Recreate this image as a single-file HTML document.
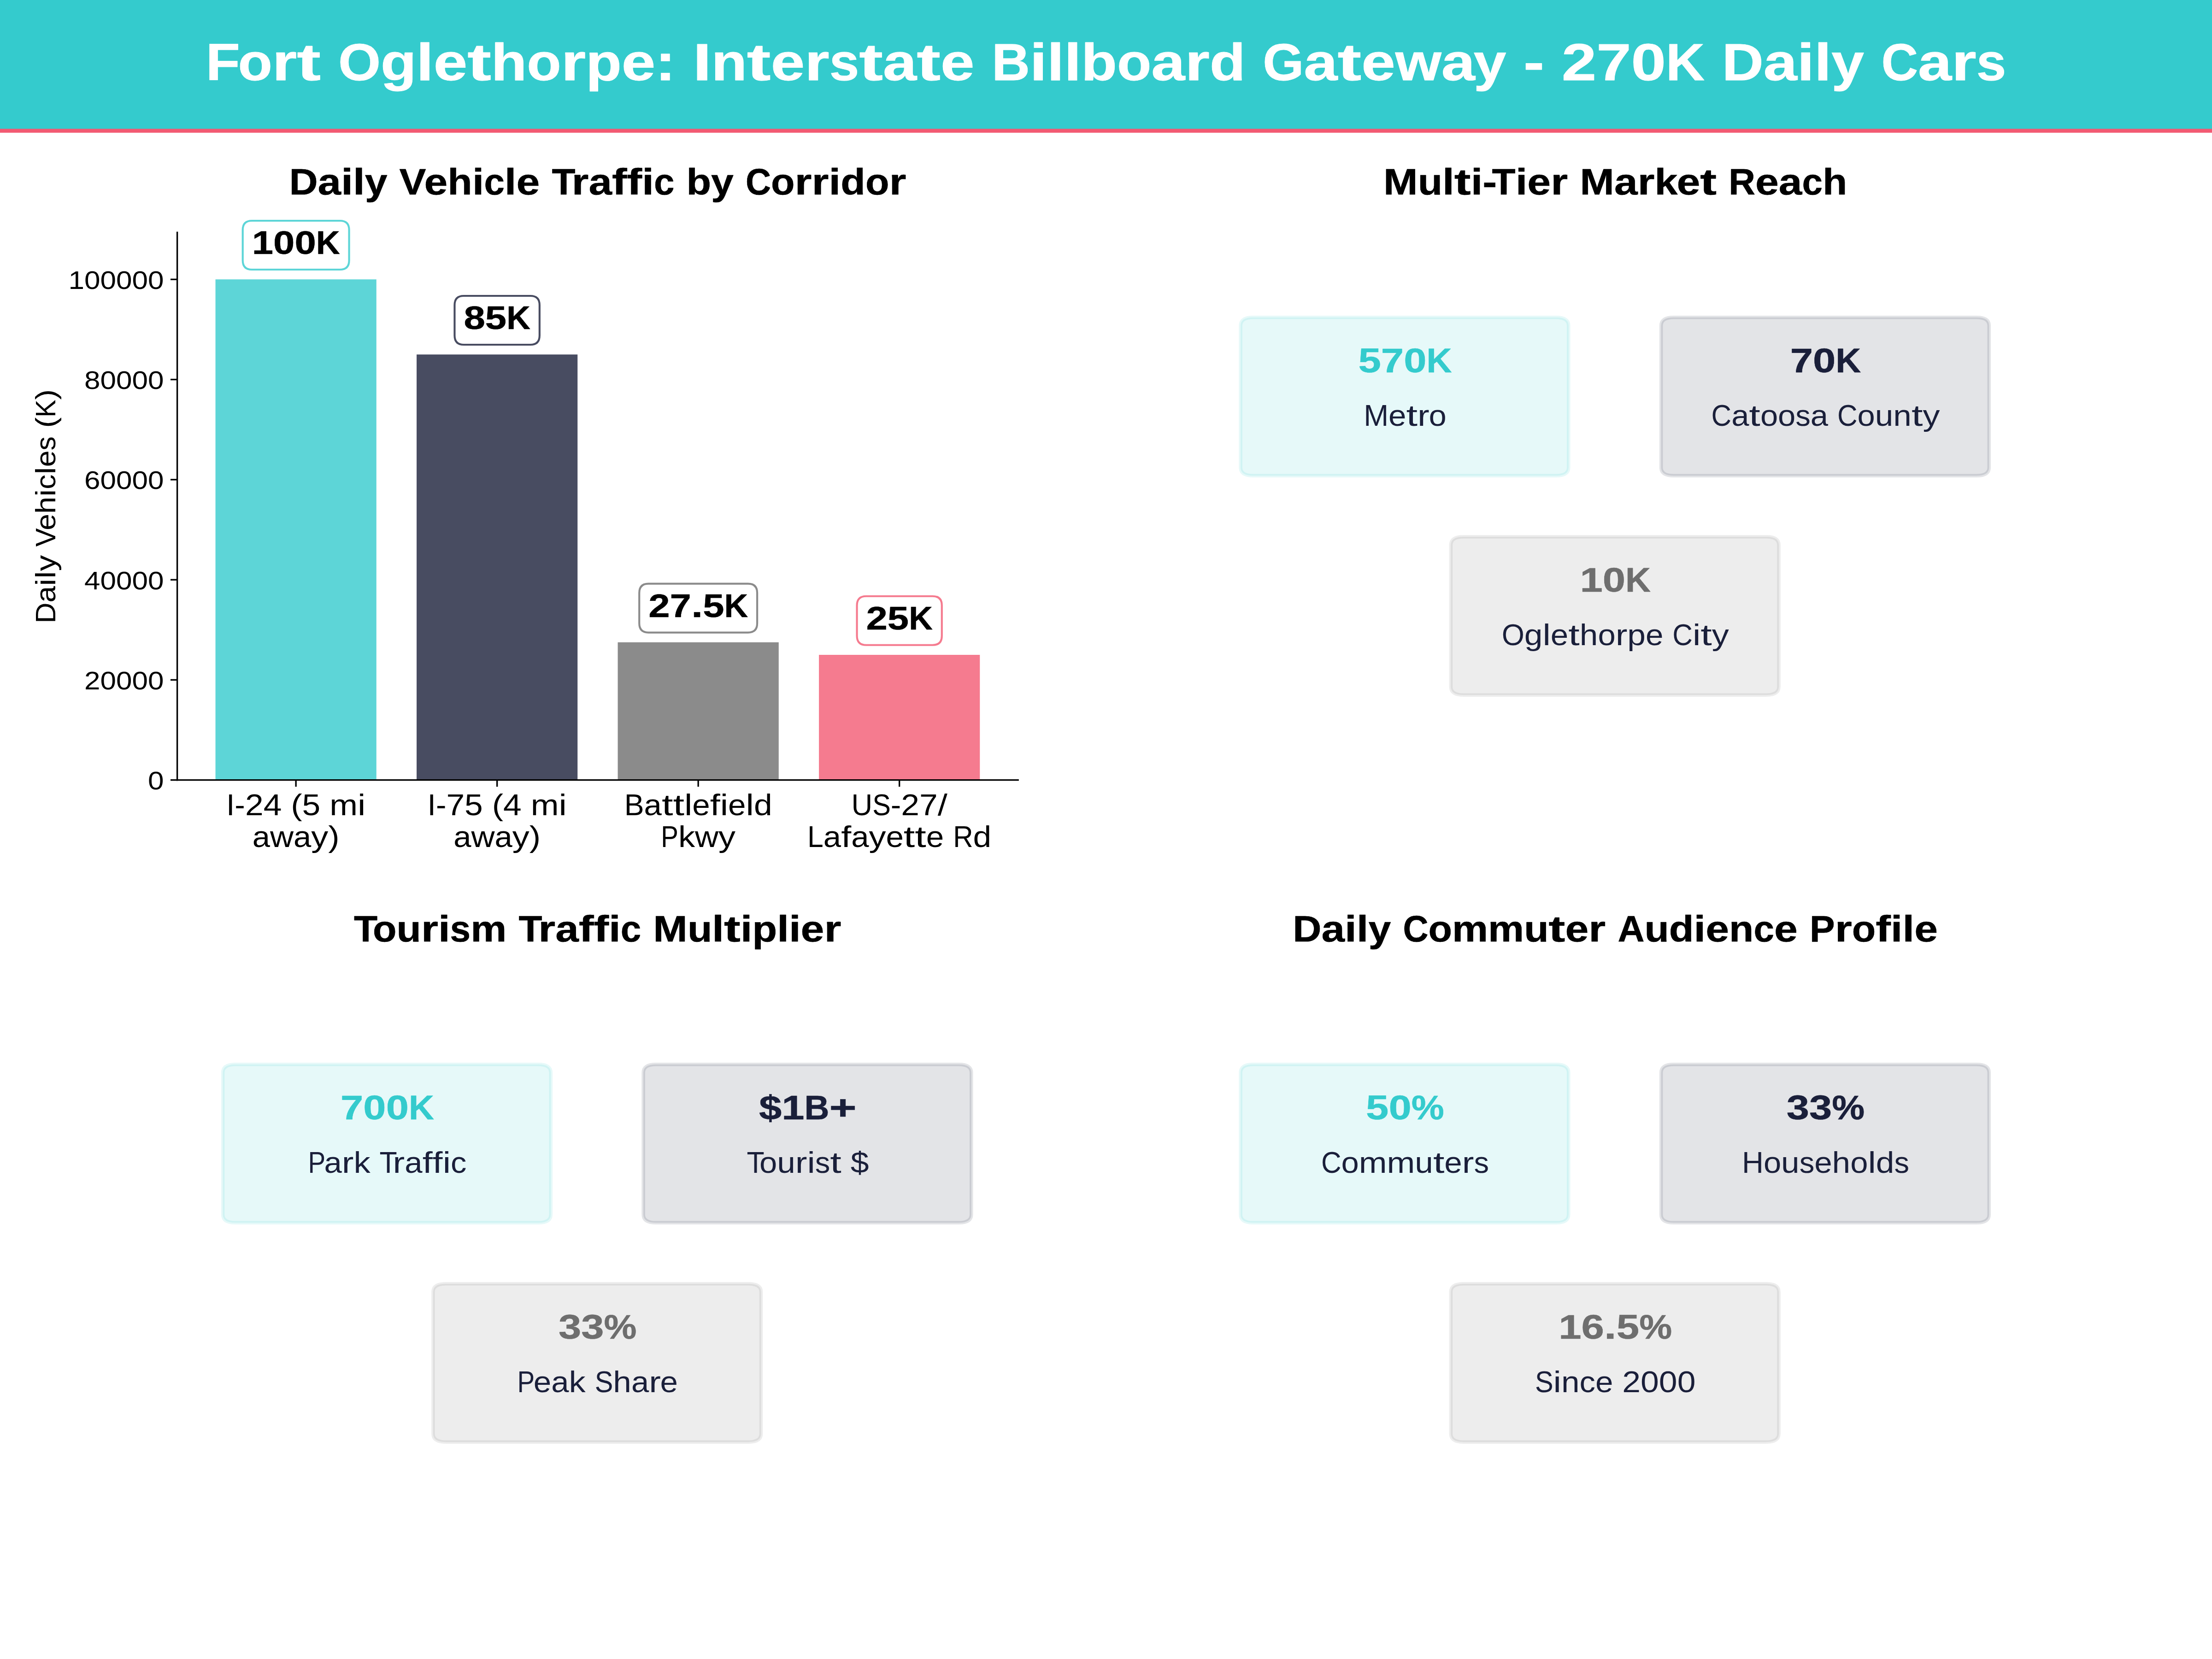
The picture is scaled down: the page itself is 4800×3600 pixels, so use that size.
<!DOCTYPE html>
<html><head><meta charset="utf-8"><style>
html,body{margin:0;padding:0;background:#fff;}
svg{display:block;}
text{font-family:"Liberation Sans",sans-serif;font-variant-ligatures:none;font-kerning:none;}
</style></head><body>
<svg width="4800" height="3600" viewBox="0 0 4800 3600">
<path d="M0 3600L4800 3600L4800 0L0 0Z" fill="#ffffff"/>
<path d="M384.6 1692.6L2209.2 1692.6L2209.2 504.5L384.6 504.5Z" fill="#ffffff"/>
<path d="M467.54 1692.6L816.74 1692.6L816.74 606.3L467.54 606.3Z" fill="#34cbcd" fill-opacity="0.8"/>
<path d="M904.04 1692.6L1253.25 1692.6L1253.25 769.24L904.04 769.24Z" fill="#1a1f3a" fill-opacity="0.8"/>
<path d="M1340.55 1692.6L1689.76 1692.6L1689.76 1393.87L1340.55 1393.87Z" fill="#6e6e6e" fill-opacity="0.8"/>
<path d="M1777.06 1692.6L2126.26 1692.6L2126.26 1421.02L1777.06 1421.02Z" fill="#f25a73" fill-opacity="0.8"/>
<path d="M642.14 1692.6L642.14 1707.18" fill="none" stroke="#000000" stroke-width="3.33"/>
<g font-size="65" fill="#000000" text-anchor="middle"><text x="500.16" y="1768.77" textLength="18.42" lengthAdjust="spacingAndGlyphs">I</text><text x="520.63" y="1768.77" textLength="22.53" lengthAdjust="spacingAndGlyphs">-</text><text x="551.77" y="1768.77" textLength="39.73" lengthAdjust="spacingAndGlyphs">2</text><text x="591.49" y="1768.77" textLength="39.73" lengthAdjust="spacingAndGlyphs">4</text><text x="643.39" y="1768.77" textLength="24.36" lengthAdjust="spacingAndGlyphs">(</text><text x="675.43" y="1768.77" textLength="39.73" lengthAdjust="spacingAndGlyphs">5</text><text x="745.56" y="1768.77" textLength="60.83" lengthAdjust="spacingAndGlyphs">m</text><text x="784.65" y="1768.77" textLength="17.35" lengthAdjust="spacingAndGlyphs">i</text></g>
<g font-size="65" fill="#000000" text-anchor="middle"><text x="566.83" y="1838.17" textLength="38.26" lengthAdjust="spacingAndGlyphs">a</text><text x="611.49" y="1838.17" textLength="51.06" lengthAdjust="spacingAndGlyphs">w</text><text x="656.15" y="1838.17" textLength="38.26" lengthAdjust="spacingAndGlyphs">a</text><text x="693.75" y="1838.17" textLength="36.95" lengthAdjust="spacingAndGlyphs">y</text><text x="724.4" y="1838.17" textLength="24.36" lengthAdjust="spacingAndGlyphs">)</text></g>
<path d="M1078.65 1692.6L1078.65 1707.18" fill="none" stroke="#000000" stroke-width="3.33"/>
<g font-size="65" fill="#000000" text-anchor="middle"><text x="936.67" y="1768.77" textLength="18.42" lengthAdjust="spacingAndGlyphs">I</text><text x="957.14" y="1768.77" textLength="22.53" lengthAdjust="spacingAndGlyphs">-</text><text x="988.27" y="1768.77" textLength="39.73" lengthAdjust="spacingAndGlyphs">7</text><text x="1028" y="1768.77" textLength="39.73" lengthAdjust="spacingAndGlyphs">5</text><text x="1079.9" y="1768.77" textLength="24.36" lengthAdjust="spacingAndGlyphs">(</text><text x="1111.94" y="1768.77" textLength="39.73" lengthAdjust="spacingAndGlyphs">4</text><text x="1182.07" y="1768.77" textLength="60.83" lengthAdjust="spacingAndGlyphs">m</text><text x="1221.16" y="1768.77" textLength="17.35" lengthAdjust="spacingAndGlyphs">i</text></g>
<g font-size="65" fill="#000000" text-anchor="middle"><text x="1003.34" y="1838.17" textLength="38.26" lengthAdjust="spacingAndGlyphs">a</text><text x="1048" y="1838.17" textLength="51.06" lengthAdjust="spacingAndGlyphs">w</text><text x="1092.65" y="1838.17" textLength="38.26" lengthAdjust="spacingAndGlyphs">a</text><text x="1130.25" y="1838.17" textLength="36.95" lengthAdjust="spacingAndGlyphs">y</text><text x="1160.91" y="1838.17" textLength="24.36" lengthAdjust="spacingAndGlyphs">)</text></g>
<path d="M1515.15 1692.6L1515.15 1707.18" fill="none" stroke="#000000" stroke-width="3.33"/>
<g font-size="65" fill="#000000" text-anchor="middle"><text x="1376.16" y="1768.77" textLength="42.88" lengthAdjust="spacingAndGlyphs">B</text><text x="1416.75" y="1768.77" textLength="38.3" lengthAdjust="spacingAndGlyphs">a</text><text x="1448.15" y="1768.77" textLength="24.51" lengthAdjust="spacingAndGlyphs">t</text><text x="1472.66" y="1768.77" textLength="24.51" lengthAdjust="spacingAndGlyphs">t</text><text x="1493.59" y="1768.77" textLength="17.37" lengthAdjust="spacingAndGlyphs">l</text><text x="1521.5" y="1768.77" textLength="38.45" lengthAdjust="spacingAndGlyphs">e</text><text x="1551.73" y="1768.77" textLength="22" lengthAdjust="spacingAndGlyphs">f</text><text x="1571.42" y="1768.77" textLength="17.37" lengthAdjust="spacingAndGlyphs">i</text><text x="1599.32" y="1768.77" textLength="38.45" lengthAdjust="spacingAndGlyphs">e</text><text x="1627.23" y="1768.77" textLength="17.37" lengthAdjust="spacingAndGlyphs">l</text><text x="1655.75" y="1768.77" textLength="39.67" lengthAdjust="spacingAndGlyphs">d</text></g>
<g font-size="65" fill="#000000" text-anchor="middle"><text x="1453.05" y="1838.17" textLength="37.66" lengthAdjust="spacingAndGlyphs">P</text><text x="1489.96" y="1838.17" textLength="36.17" lengthAdjust="spacingAndGlyphs">k</text><text x="1533.59" y="1838.17" textLength="51.08" lengthAdjust="spacingAndGlyphs">w</text><text x="1577.61" y="1838.17" textLength="36.96" lengthAdjust="spacingAndGlyphs">y</text></g>
<path d="M1951.66 1692.6L1951.66 1707.18" fill="none" stroke="#000000" stroke-width="3.33"/>
<g font-size="65" fill="#000000" text-anchor="middle"><text x="1870.33" y="1768.77" textLength="45.71" lengthAdjust="spacingAndGlyphs">U</text><text x="1913" y="1768.77" textLength="39.64" lengthAdjust="spacingAndGlyphs">S</text><text x="1944.08" y="1768.77" textLength="22.53" lengthAdjust="spacingAndGlyphs">-</text><text x="1975.22" y="1768.77" textLength="39.73" lengthAdjust="spacingAndGlyphs">2</text><text x="2014.94" y="1768.77" textLength="39.73" lengthAdjust="spacingAndGlyphs">7</text><text x="2045.33" y="1768.77" textLength="21.04" lengthAdjust="spacingAndGlyphs">/</text></g>
<g font-size="65" fill="#000000" text-anchor="middle"><text x="1769.44" y="1838.17" textLength="34.82" lengthAdjust="spacingAndGlyphs">L</text><text x="1806" y="1838.17" textLength="38.3" lengthAdjust="spacingAndGlyphs">a</text><text x="1836.15" y="1838.17" textLength="22" lengthAdjust="spacingAndGlyphs">f</text><text x="1866.3" y="1838.17" textLength="38.3" lengthAdjust="spacingAndGlyphs">a</text><text x="1903.94" y="1838.17" textLength="36.98" lengthAdjust="spacingAndGlyphs">y</text><text x="1941.65" y="1838.17" textLength="38.45" lengthAdjust="spacingAndGlyphs">e</text><text x="1973.13" y="1838.17" textLength="24.5" lengthAdjust="spacingAndGlyphs">t</text><text x="1997.63" y="1838.17" textLength="24.5" lengthAdjust="spacingAndGlyphs">t</text><text x="2029.11" y="1838.17" textLength="38.45" lengthAdjust="spacingAndGlyphs">e</text><text x="2089.91" y="1838.17" textLength="43.42" lengthAdjust="spacingAndGlyphs">R</text><text x="2131.45" y="1838.17" textLength="39.67" lengthAdjust="spacingAndGlyphs">d</text></g>
<path d="M384.6 1692.6L370.02 1692.6" fill="none" stroke="#000000" stroke-width="3.33"/>
<g font-size="56.33" fill="#000000" text-anchor="middle"><text x="338.18" y="1713.1" textLength="34.5" lengthAdjust="spacingAndGlyphs">0</text></g>
<path d="M384.6 1475.34L370.02 1475.34" fill="none" stroke="#000000" stroke-width="3.33"/>
<g font-size="56.33" fill="#000000" text-anchor="middle"><text x="200.3" y="1495.84" textLength="34.48" lengthAdjust="spacingAndGlyphs">2</text><text x="234.77" y="1495.84" textLength="34.48" lengthAdjust="spacingAndGlyphs">0</text><text x="269.25" y="1495.84" textLength="34.48" lengthAdjust="spacingAndGlyphs">0</text><text x="303.72" y="1495.84" textLength="34.47" lengthAdjust="spacingAndGlyphs">0</text><text x="338.2" y="1495.84" textLength="34.47" lengthAdjust="spacingAndGlyphs">0</text></g>
<path d="M384.6 1258.08L370.02 1258.08" fill="none" stroke="#000000" stroke-width="3.33"/>
<g font-size="56.33" fill="#000000" text-anchor="middle"><text x="200.18" y="1278.58" textLength="34.5" lengthAdjust="spacingAndGlyphs">4</text><text x="234.68" y="1278.58" textLength="34.5" lengthAdjust="spacingAndGlyphs">0</text><text x="269.18" y="1278.58" textLength="34.5" lengthAdjust="spacingAndGlyphs">0</text><text x="303.68" y="1278.58" textLength="34.5" lengthAdjust="spacingAndGlyphs">0</text><text x="338.18" y="1278.58" textLength="34.5" lengthAdjust="spacingAndGlyphs">0</text></g>
<path d="M384.6 1040.82L370.02 1040.82" fill="none" stroke="#000000" stroke-width="3.33"/>
<g font-size="56.33" fill="#000000" text-anchor="middle"><text x="200.3" y="1061.32" textLength="34.48" lengthAdjust="spacingAndGlyphs">6</text><text x="234.77" y="1061.32" textLength="34.48" lengthAdjust="spacingAndGlyphs">0</text><text x="269.25" y="1061.32" textLength="34.48" lengthAdjust="spacingAndGlyphs">0</text><text x="303.72" y="1061.32" textLength="34.47" lengthAdjust="spacingAndGlyphs">0</text><text x="338.2" y="1061.32" textLength="34.47" lengthAdjust="spacingAndGlyphs">0</text></g>
<path d="M384.6 823.56L370.02 823.56" fill="none" stroke="#000000" stroke-width="3.33"/>
<g font-size="56.33" fill="#000000" text-anchor="middle"><text x="200.18" y="844.06" textLength="34.5" lengthAdjust="spacingAndGlyphs">8</text><text x="234.68" y="844.06" textLength="34.5" lengthAdjust="spacingAndGlyphs">0</text><text x="269.18" y="844.06" textLength="34.5" lengthAdjust="spacingAndGlyphs">0</text><text x="303.68" y="844.06" textLength="34.5" lengthAdjust="spacingAndGlyphs">0</text><text x="338.18" y="844.06" textLength="34.5" lengthAdjust="spacingAndGlyphs">0</text></g>
<path d="M384.6 606.3L370.02 606.3" fill="none" stroke="#000000" stroke-width="3.33"/>
<g font-size="56.33" fill="#000000" text-anchor="middle"><text x="165.68" y="626.8" textLength="34.5" lengthAdjust="spacingAndGlyphs">1</text><text x="200.18" y="626.8" textLength="34.5" lengthAdjust="spacingAndGlyphs">0</text><text x="234.68" y="626.8" textLength="34.5" lengthAdjust="spacingAndGlyphs">0</text><text x="269.18" y="626.8" textLength="34.5" lengthAdjust="spacingAndGlyphs">0</text><text x="303.68" y="626.8" textLength="34.5" lengthAdjust="spacingAndGlyphs">0</text><text x="338.18" y="626.8" textLength="34.5" lengthAdjust="spacingAndGlyphs">0</text></g>
<g font-size="60.67" fill="#000000" text-anchor="middle"><text x="119.77" y="1330.01" textLength="44.95" lengthAdjust="spacingAndGlyphs" transform="rotate(-90 119.77 1330.01)">D</text><text x="119.77" y="1289.65" textLength="35.77" lengthAdjust="spacingAndGlyphs" transform="rotate(-90 119.77 1289.65)">a</text><text x="119.77" y="1263.65" textLength="16.22" lengthAdjust="spacingAndGlyphs" transform="rotate(-90 119.77 1263.65)">i</text><text x="119.77" y="1247.43" textLength="16.22" lengthAdjust="spacingAndGlyphs" transform="rotate(-90 119.77 1247.43)">l</text><text x="119.77" y="1222.05" textLength="34.55" lengthAdjust="spacingAndGlyphs" transform="rotate(-90 119.77 1222.05)">y</text><text x="119.77" y="1166.25" textLength="39.94" lengthAdjust="spacingAndGlyphs" transform="rotate(-90 119.77 1166.25)">V</text><text x="119.77" y="1132.83" textLength="35.92" lengthAdjust="spacingAndGlyphs" transform="rotate(-90 119.77 1132.83)">e</text><text x="119.77" y="1096.37" textLength="37" lengthAdjust="spacingAndGlyphs" transform="rotate(-90 119.77 1096.37)">h</text><text x="119.77" y="1069.76" textLength="16.22" lengthAdjust="spacingAndGlyphs" transform="rotate(-90 119.77 1069.76)">i</text><text x="119.77" y="1045.6" textLength="32.1" lengthAdjust="spacingAndGlyphs" transform="rotate(-90 119.77 1045.6)">c</text><text x="119.77" y="1021.44" textLength="16.22" lengthAdjust="spacingAndGlyphs" transform="rotate(-90 119.77 1021.44)">l</text><text x="119.77" y="995.37" textLength="35.92" lengthAdjust="spacingAndGlyphs" transform="rotate(-90 119.77 995.37)">e</text><text x="119.77" y="962.21" textLength="30.41" lengthAdjust="spacingAndGlyphs" transform="rotate(-90 119.77 962.21)">s</text><text x="119.77" y="917.06" textLength="22.78" lengthAdjust="spacingAndGlyphs" transform="rotate(-90 119.77 917.06)">(</text><text x="119.77" y="886.53" textLength="38.28" lengthAdjust="spacingAndGlyphs" transform="rotate(-90 119.77 886.53)">K</text><text x="119.77" y="856" textLength="22.78" lengthAdjust="spacingAndGlyphs" transform="rotate(-90 119.77 856)">)</text></g>
<path d="M384.6 1692.6L384.6 504.5" fill="none" stroke="#000000" stroke-width="3.33" stroke-linejoin="miter" stroke-linecap="square"/>
<path d="M384.6 1692.6L2209.2 1692.6" fill="none" stroke="#000000" stroke-width="3.33" stroke-linejoin="miter" stroke-linecap="square"/>
<path d="M546.7 585.02L737.58 585.02Q757.58 585.02 757.58 565.02L757.58 499.02Q757.58 479.02 737.58 479.02L546.7 479.02Q526.7 479.02 526.7 499.02L526.7 565.02Q526.7 585.02 546.7 585.02Z" fill="#ffffff" fill-opacity="0.8" stroke="#34cbcd" stroke-width="4.17" stroke-opacity="0.8" stroke-linejoin="miter" stroke-linecap="butt"/>
<g font-size="70" font-weight="bold" fill="#000000" stroke="#000000" stroke-width="0.53" stroke-linejoin="round" text-anchor="middle"><text x="569.9" y="551.02" textLength="46.4" lengthAdjust="spacingAndGlyphs">1</text><text x="616.3" y="551.02" textLength="46.4" lengthAdjust="spacingAndGlyphs">0</text><text x="662.7" y="551.02" textLength="46.4" lengthAdjust="spacingAndGlyphs">0</text><text x="711.74" y="551.02" textLength="51.67" lengthAdjust="spacingAndGlyphs">K</text></g>
<path d="M1006.46 747.97L1150.83 747.97Q1170.83 747.97 1170.83 727.97L1170.83 661.97Q1170.83 641.97 1150.83 641.97L1006.46 641.97Q986.46 641.97 986.46 661.97L986.46 727.97Q986.46 747.97 1006.46 747.97Z" fill="#ffffff" fill-opacity="0.8" stroke="#1a1f3a" stroke-width="4.17" stroke-opacity="0.8" stroke-linejoin="miter" stroke-linecap="butt"/>
<g font-size="70" font-weight="bold" fill="#000000" stroke="#000000" stroke-width="0.53" stroke-linejoin="round" text-anchor="middle"><text x="1029.64" y="713.97" textLength="46.37" lengthAdjust="spacingAndGlyphs">8</text><text x="1076.01" y="713.97" textLength="46.37" lengthAdjust="spacingAndGlyphs">5</text><text x="1125.01" y="713.97" textLength="51.64" lengthAdjust="spacingAndGlyphs">K</text></g>
<path d="M1407.22 1372.59L1623.09 1372.59Q1643.09 1372.59 1643.09 1352.59L1643.09 1286.59Q1643.09 1266.59 1623.09 1266.59L1407.22 1266.59Q1387.22 1266.59 1387.22 1286.59L1387.22 1352.59Q1387.22 1372.59 1407.22 1372.59Z" fill="#ffffff" fill-opacity="0.8" stroke="#6e6e6e" stroke-width="4.17" stroke-opacity="0.8" stroke-linejoin="miter" stroke-linecap="butt"/>
<g font-size="70" font-weight="bold" fill="#000000" stroke="#000000" stroke-width="0.53" stroke-linejoin="round" text-anchor="middle"><text x="1430.38" y="1338.59" textLength="46.33" lengthAdjust="spacingAndGlyphs">2</text><text x="1476.71" y="1338.59" textLength="46.33" lengthAdjust="spacingAndGlyphs">7</text><text x="1512.52" y="1338.59" textLength="25.29" lengthAdjust="spacingAndGlyphs">.</text><text x="1548.33" y="1338.59" textLength="46.33" lengthAdjust="spacingAndGlyphs">5</text><text x="1597.29" y="1338.59" textLength="51.6" lengthAdjust="spacingAndGlyphs">K</text></g>
<path d="M1879.54 1399.75L2023.79 1399.75Q2043.79 1399.75 2043.79 1379.75L2043.79 1313.75Q2043.79 1293.75 2023.79 1293.75L1879.54 1293.75Q1859.54 1293.75 1859.54 1313.75L1859.54 1379.75Q1859.54 1399.75 1879.54 1399.75Z" fill="#ffffff" fill-opacity="0.8" stroke="#f25a73" stroke-width="4.17" stroke-opacity="0.8" stroke-linejoin="miter" stroke-linecap="butt"/>
<g font-size="70" font-weight="bold" fill="#000000" stroke="#000000" stroke-width="0.53" stroke-linejoin="round" text-anchor="middle"><text x="1902.7" y="1365.75" textLength="46.33" lengthAdjust="spacingAndGlyphs">2</text><text x="1949.03" y="1365.75" textLength="46.33" lengthAdjust="spacingAndGlyphs">5</text><text x="1997.99" y="1365.75" textLength="51.59" lengthAdjust="spacingAndGlyphs">K</text></g>
<g font-size="78.75" font-weight="bold" fill="#000000" stroke="#000000" stroke-width="0.6" stroke-linejoin="round" text-anchor="middle"><text x="658.52" y="421.97" textLength="62.23" lengthAdjust="spacingAndGlyphs">D</text><text x="714.93" y="421.97" textLength="50.59" lengthAdjust="spacingAndGlyphs">a</text><text x="753.07" y="421.97" textLength="25.7" lengthAdjust="spacingAndGlyphs">i</text><text x="778.77" y="421.97" textLength="25.7" lengthAdjust="spacingAndGlyphs">l</text><text x="816.06" y="421.97" textLength="48.87" lengthAdjust="spacingAndGlyphs">y</text><text x="895.61" y="421.97" textLength="58.02" lengthAdjust="spacingAndGlyphs">V</text><text x="945.92" y="421.97" textLength="50.85" lengthAdjust="spacingAndGlyphs">e</text><text x="998.03" y="421.97" textLength="53.37" lengthAdjust="spacingAndGlyphs">h</text><text x="1037.57" y="421.97" textLength="25.7" lengthAdjust="spacingAndGlyphs">i</text><text x="1072.64" y="421.97" textLength="44.44" lengthAdjust="spacingAndGlyphs">c</text><text x="1107.71" y="421.97" textLength="25.7" lengthAdjust="spacingAndGlyphs">l</text><text x="1145.98" y="421.97" textLength="50.85" lengthAdjust="spacingAndGlyphs">e</text><text x="1223.07" y="421.97" textLength="51.14" lengthAdjust="spacingAndGlyphs">T</text><text x="1258.88" y="421.97" textLength="36.97" lengthAdjust="spacingAndGlyphs">r</text><text x="1302.67" y="421.97" textLength="50.59" lengthAdjust="spacingAndGlyphs">a</text><text x="1344.27" y="421.97" textLength="32.62" lengthAdjust="spacingAndGlyphs">f</text><text x="1376.89" y="421.97" textLength="32.62" lengthAdjust="spacingAndGlyphs">f</text><text x="1406.05" y="421.97" textLength="25.7" lengthAdjust="spacingAndGlyphs">i</text><text x="1441.12" y="421.97" textLength="44.44" lengthAdjust="spacingAndGlyphs">c</text><text x="1516.27" y="421.97" textLength="53.67" lengthAdjust="spacingAndGlyphs">b</text><text x="1567.54" y="421.97" textLength="48.87" lengthAdjust="spacingAndGlyphs">y</text><text x="1645.59" y="421.97" textLength="55.02" lengthAdjust="spacingAndGlyphs">C</text><text x="1698.85" y="421.97" textLength="51.51" lengthAdjust="spacingAndGlyphs">o</text><text x="1743.09" y="421.97" textLength="36.97" lengthAdjust="spacingAndGlyphs">r</text><text x="1780.07" y="421.97" textLength="36.97" lengthAdjust="spacingAndGlyphs">r</text><text x="1811.4" y="421.97" textLength="25.7" lengthAdjust="spacingAndGlyphs">i</text><text x="1851.09" y="421.97" textLength="53.67" lengthAdjust="spacingAndGlyphs">d</text><text x="1903.67" y="421.97" textLength="51.51" lengthAdjust="spacingAndGlyphs">o</text><text x="1947.91" y="421.97" textLength="36.97" lengthAdjust="spacingAndGlyphs">r</text></g>
<path d="M2719.45 1032.26L3376.45 1032.26Q3403.82 1032.26 3403.82 1014.41L3403.82 706.57Q3403.82 688.72 3376.45 688.72L2719.45 688.72Q2692.07 688.72 2692.07 706.57L2692.07 1014.41Q2692.07 1032.26 2719.45 1032.26Z" fill="#34cbcd" fill-opacity="0.12" stroke="#34cbcd" stroke-width="7.5" stroke-opacity="0.12" stroke-linejoin="miter" stroke-linecap="butt"/>
<path d="M3631.95 1032.26L4288.95 1032.26Q4316.32 1032.26 4316.32 1014.41L4316.32 706.57Q4316.32 688.72 4288.95 688.72L3631.95 688.72Q3604.57 688.72 3604.57 706.57L3604.57 1014.41Q3604.57 1032.26 3631.95 1032.26Z" fill="#1a1f3a" fill-opacity="0.12" stroke="#1a1f3a" stroke-width="7.5" stroke-opacity="0.12" stroke-linejoin="miter" stroke-linecap="butt"/>
<path d="M3175.7 1508.18L3832.7 1508.18Q3860.07 1508.18 3860.07 1490.33L3860.07 1182.49Q3860.07 1164.64 3832.7 1164.64L3175.7 1164.64Q3148.32 1164.64 3148.32 1182.49L3148.32 1490.33Q3148.32 1508.18 3175.7 1508.18Z" fill="#6e6e6e" fill-opacity="0.12" stroke="#6e6e6e" stroke-width="7.5" stroke-opacity="0.12" stroke-linejoin="miter" stroke-linecap="butt"/>
<g font-size="74.38" font-weight="bold" fill="#34cbcd" stroke="#34cbcd" stroke-width="0.57" stroke-linejoin="round" text-anchor="middle"><text x="2972.17" y="807.85" textLength="49.32" lengthAdjust="spacingAndGlyphs">5</text><text x="3021.49" y="807.85" textLength="49.32" lengthAdjust="spacingAndGlyphs">7</text><text x="3070.81" y="807.85" textLength="49.32" lengthAdjust="spacingAndGlyphs">0</text><text x="3122.93" y="807.85" textLength="54.92" lengthAdjust="spacingAndGlyphs">K</text></g>
<g font-size="65" fill="#1a1f3a" text-anchor="middle"><text x="2986.17" y="924.33" textLength="53.94" lengthAdjust="spacingAndGlyphs">M</text><text x="3032.37" y="924.33" textLength="38.46" lengthAdjust="spacingAndGlyphs">e</text><text x="3063.86" y="924.33" textLength="24.51" lengthAdjust="spacingAndGlyphs">t</text><text x="3088.97" y="924.33" textLength="25.7" lengthAdjust="spacingAndGlyphs">r</text><text x="3119.57" y="924.33" textLength="38.25" lengthAdjust="spacingAndGlyphs">o</text></g>
<g font-size="74.38" font-weight="bold" fill="#1a1f3a" stroke="#1a1f3a" stroke-width="0.57" stroke-linejoin="round" text-anchor="middle"><text x="3909.35" y="807.85" textLength="49.3" lengthAdjust="spacingAndGlyphs">7</text><text x="3958.65" y="807.85" textLength="49.3" lengthAdjust="spacingAndGlyphs">0</text><text x="4010.75" y="807.85" textLength="54.9" lengthAdjust="spacingAndGlyphs">K</text></g>
<g font-size="65" fill="#1a1f3a" text-anchor="middle"><text x="3735.32" y="924.33" textLength="43.61" lengthAdjust="spacingAndGlyphs">C</text><text x="3776.26" y="924.33" textLength="38.27" lengthAdjust="spacingAndGlyphs">a</text><text x="3807.63" y="924.33" textLength="24.49" lengthAdjust="spacingAndGlyphs">t</text><text x="3838.98" y="924.33" textLength="38.21" lengthAdjust="spacingAndGlyphs">o</text><text x="3877.19" y="924.33" textLength="38.21" lengthAdjust="spacingAndGlyphs">o</text><text x="3912.57" y="924.33" textLength="32.54" lengthAdjust="spacingAndGlyphs">s</text><text x="3947.97" y="924.33" textLength="38.27" lengthAdjust="spacingAndGlyphs">a</text><text x="4008.76" y="924.33" textLength="43.61" lengthAdjust="spacingAndGlyphs">C</text><text x="4049.67" y="924.33" textLength="38.21" lengthAdjust="spacingAndGlyphs">o</text><text x="4088.57" y="924.33" textLength="39.58" lengthAdjust="spacingAndGlyphs">u</text><text x="4128.15" y="924.33" textLength="39.58" lengthAdjust="spacingAndGlyphs">n</text><text x="4160.18" y="924.33" textLength="24.49" lengthAdjust="spacingAndGlyphs">t</text><text x="4190.91" y="924.33" textLength="36.96" lengthAdjust="spacingAndGlyphs">y</text></g>
<g font-size="74.38" font-weight="bold" fill="#6e6e6e" stroke="#6e6e6e" stroke-width="0.57" stroke-linejoin="round" text-anchor="middle"><text x="3453.1" y="1283.77" textLength="49.3" lengthAdjust="spacingAndGlyphs">1</text><text x="3502.4" y="1283.77" textLength="49.3" lengthAdjust="spacingAndGlyphs">0</text><text x="3554.5" y="1283.77" textLength="54.9" lengthAdjust="spacingAndGlyphs">K</text></g>
<g font-size="65" fill="#1a1f3a" text-anchor="middle"><text x="3283.23" y="1400.25" textLength="49.18" lengthAdjust="spacingAndGlyphs">O</text><text x="3327.65" y="1400.25" textLength="39.66" lengthAdjust="spacingAndGlyphs">g</text><text x="3356.17" y="1400.25" textLength="17.36" lengthAdjust="spacingAndGlyphs">l</text><text x="3384.07" y="1400.25" textLength="38.44" lengthAdjust="spacingAndGlyphs">e</text><text x="3415.54" y="1400.25" textLength="24.5" lengthAdjust="spacingAndGlyphs">t</text><text x="3447.59" y="1400.25" textLength="39.6" lengthAdjust="spacingAndGlyphs">h</text><text x="3486.51" y="1400.25" textLength="38.23" lengthAdjust="spacingAndGlyphs">o</text><text x="3518.47" y="1400.25" textLength="25.69" lengthAdjust="spacingAndGlyphs">r</text><text x="3551.15" y="1400.25" textLength="39.66" lengthAdjust="spacingAndGlyphs">p</text><text x="3590.2" y="1400.25" textLength="38.44" lengthAdjust="spacingAndGlyphs">e</text><text x="3651.11" y="1400.25" textLength="43.63" lengthAdjust="spacingAndGlyphs">C</text><text x="3681.6" y="1400.25" textLength="17.36" lengthAdjust="spacingAndGlyphs">i</text><text x="3702.53" y="1400.25" textLength="24.5" lengthAdjust="spacingAndGlyphs">t</text><text x="3733.27" y="1400.25" textLength="36.98" lengthAdjust="spacingAndGlyphs">y</text></g>
<g font-size="78.75" font-weight="bold" fill="#000000" stroke="#000000" stroke-width="0.6" stroke-linejoin="round" text-anchor="middle"><text x="3039.39" y="421.97" textLength="74.63" lengthAdjust="spacingAndGlyphs">M</text><text x="3103.4" y="421.97" textLength="53.39" lengthAdjust="spacingAndGlyphs">u</text><text x="3142.95" y="421.97" textLength="25.71" lengthAdjust="spacingAndGlyphs">l</text><text x="3173.73" y="421.97" textLength="35.85" lengthAdjust="spacingAndGlyphs">t</text><text x="3204.51" y="421.97" textLength="25.71" lengthAdjust="spacingAndGlyphs">i</text><text x="3232.93" y="421.97" textLength="31.13" lengthAdjust="spacingAndGlyphs">-</text><text x="3263.07" y="421.97" textLength="51.16" lengthAdjust="spacingAndGlyphs">T</text><text x="3301.5" y="421.97" textLength="25.71" lengthAdjust="spacingAndGlyphs">i</text><text x="3339.79" y="421.97" textLength="50.87" lengthAdjust="spacingAndGlyphs">e</text><text x="3383.72" y="421.97" textLength="36.99" lengthAdjust="spacingAndGlyphs">r</text><text x="3465.64" y="421.97" textLength="74.63" lengthAdjust="spacingAndGlyphs">M</text><text x="3528.26" y="421.97" textLength="50.61" lengthAdjust="spacingAndGlyphs">a</text><text x="3572.05" y="421.97" textLength="36.99" lengthAdjust="spacingAndGlyphs">r</text><text x="3615.49" y="421.97" textLength="49.88" lengthAdjust="spacingAndGlyphs">k</text><text x="3663.86" y="421.97" textLength="50.87" lengthAdjust="spacingAndGlyphs">e</text><text x="3707.22" y="421.97" textLength="35.85" lengthAdjust="spacingAndGlyphs">t</text><text x="3780.13" y="421.97" textLength="57.75" lengthAdjust="spacingAndGlyphs">R</text><text x="3834.43" y="421.97" textLength="50.87" lengthAdjust="spacingAndGlyphs">e</text><text x="3885.17" y="421.97" textLength="50.61" lengthAdjust="spacingAndGlyphs">a</text><text x="3932.7" y="421.97" textLength="44.46" lengthAdjust="spacingAndGlyphs">c</text><text x="3981.63" y="421.97" textLength="53.39" lengthAdjust="spacingAndGlyphs">h</text></g>
<path d="M510.95 2653.26L1167.95 2653.26Q1195.32 2653.26 1195.32 2635.41L1195.32 2327.57Q1195.32 2309.72 1167.95 2309.72L510.95 2309.72Q483.57 2309.72 483.57 2327.57L483.57 2635.41Q483.57 2653.26 510.95 2653.26Z" fill="#34cbcd" fill-opacity="0.12" stroke="#34cbcd" stroke-width="7.5" stroke-opacity="0.12" stroke-linejoin="miter" stroke-linecap="butt"/>
<path d="M1423.45 2653.26L2080.45 2653.26Q2107.82 2653.26 2107.82 2635.41L2107.82 2327.57Q2107.82 2309.72 2080.45 2309.72L1423.45 2309.72Q1396.07 2309.72 1396.07 2327.57L1396.07 2635.41Q1396.07 2653.26 1423.45 2653.26Z" fill="#1a1f3a" fill-opacity="0.12" stroke="#1a1f3a" stroke-width="7.5" stroke-opacity="0.12" stroke-linejoin="miter" stroke-linecap="butt"/>
<path d="M967.2 3129.18L1624.2 3129.18Q1651.57 3129.18 1651.57 3111.33L1651.57 2803.49Q1651.57 2785.64 1624.2 2785.64L967.2 2785.64Q939.82 2785.64 939.82 2803.49L939.82 3111.33Q939.82 3129.18 967.2 3129.18Z" fill="#6e6e6e" fill-opacity="0.12" stroke="#6e6e6e" stroke-width="7.5" stroke-opacity="0.12" stroke-linejoin="miter" stroke-linecap="butt"/>
<g font-size="74.38" font-weight="bold" fill="#34cbcd" stroke="#34cbcd" stroke-width="0.57" stroke-linejoin="round" text-anchor="middle"><text x="763.72" y="2428.85" textLength="49.29" lengthAdjust="spacingAndGlyphs">7</text><text x="813.01" y="2428.85" textLength="49.29" lengthAdjust="spacingAndGlyphs">0</text><text x="862.29" y="2428.85" textLength="49.29" lengthAdjust="spacingAndGlyphs">0</text><text x="914.38" y="2428.85" textLength="54.89" lengthAdjust="spacingAndGlyphs">K</text></g>
<g font-size="65" fill="#1a1f3a" text-anchor="middle"><text x="687.36" y="2545.33" textLength="37.7" lengthAdjust="spacingAndGlyphs">P</text><text x="722.62" y="2545.33" textLength="38.31" lengthAdjust="spacingAndGlyphs">a</text><text x="754.62" y="2545.33" textLength="25.7" lengthAdjust="spacingAndGlyphs">r</text><text x="785.58" y="2545.33" textLength="36.2" lengthAdjust="spacingAndGlyphs">k</text><text x="842.65" y="2545.33" textLength="38.19" lengthAdjust="spacingAndGlyphs">T</text><text x="865.46" y="2545.33" textLength="25.7" lengthAdjust="spacingAndGlyphs">r</text><text x="897.47" y="2545.33" textLength="38.31" lengthAdjust="spacingAndGlyphs">a</text><text x="927.63" y="2545.33" textLength="22.01" lengthAdjust="spacingAndGlyphs">f</text><text x="949.64" y="2545.33" textLength="22.01" lengthAdjust="spacingAndGlyphs">f</text><text x="969.33" y="2545.33" textLength="17.37" lengthAdjust="spacingAndGlyphs">i</text><text x="995.2" y="2545.33" textLength="34.37" lengthAdjust="spacingAndGlyphs">c</text></g>
<g font-size="74.38" font-weight="bold" fill="#1a1f3a" stroke="#1a1f3a" stroke-width="0.57" stroke-linejoin="round" text-anchor="middle"><text x="1671.65" y="2428.85" textLength="49.28" lengthAdjust="spacingAndGlyphs">$</text><text x="1720.93" y="2428.85" textLength="49.28" lengthAdjust="spacingAndGlyphs">1</text><text x="1772.56" y="2428.85" textLength="53.98" lengthAdjust="spacingAndGlyphs">B</text><text x="1829.22" y="2428.85" textLength="59.34" lengthAdjust="spacingAndGlyphs">+</text></g>
<g font-size="65" fill="#1a1f3a" text-anchor="middle"><text x="1639.47" y="2545.33" textLength="38.17" lengthAdjust="spacingAndGlyphs">T</text><text x="1667.05" y="2545.33" textLength="38.23" lengthAdjust="spacingAndGlyphs">o</text><text x="1705.97" y="2545.33" textLength="39.61" lengthAdjust="spacingAndGlyphs">u</text><text x="1738.62" y="2545.33" textLength="25.69" lengthAdjust="spacingAndGlyphs">r</text><text x="1760.15" y="2545.33" textLength="17.36" lengthAdjust="spacingAndGlyphs">i</text><text x="1785.11" y="2545.33" textLength="32.56" lengthAdjust="spacingAndGlyphs">s</text><text x="1813.64" y="2545.33" textLength="24.5" lengthAdjust="spacingAndGlyphs">t</text><text x="1865.63" y="2545.33" textLength="39.76" lengthAdjust="spacingAndGlyphs">$</text></g>
<g font-size="74.38" font-weight="bold" fill="#6e6e6e" stroke="#6e6e6e" stroke-width="0.57" stroke-linejoin="round" text-anchor="middle"><text x="1236.59" y="2904.77" textLength="49.27" lengthAdjust="spacingAndGlyphs">3</text><text x="1285.86" y="2904.77" textLength="49.27" lengthAdjust="spacingAndGlyphs">3</text><text x="1345.97" y="2904.77" textLength="70.95" lengthAdjust="spacingAndGlyphs">%</text></g>
<g font-size="65" fill="#1a1f3a" text-anchor="middle"><text x="1141.29" y="3021.25" textLength="37.68" lengthAdjust="spacingAndGlyphs">P</text><text x="1177.1" y="3021.25" textLength="38.44" lengthAdjust="spacingAndGlyphs">e</text><text x="1215.46" y="3021.25" textLength="38.29" lengthAdjust="spacingAndGlyphs">a</text><text x="1252.7" y="3021.25" textLength="36.18" lengthAdjust="spacingAndGlyphs">k</text><text x="1310.48" y="3021.25" textLength="39.66" lengthAdjust="spacingAndGlyphs">S</text><text x="1350.11" y="3021.25" textLength="39.6" lengthAdjust="spacingAndGlyphs">h</text><text x="1389.05" y="3021.25" textLength="38.29" lengthAdjust="spacingAndGlyphs">a</text><text x="1421.04" y="3021.25" textLength="25.69" lengthAdjust="spacingAndGlyphs">r</text><text x="1451.73" y="3021.25" textLength="38.44" lengthAdjust="spacingAndGlyphs">e</text></g>
<g font-size="78.75" font-weight="bold" fill="#000000" stroke="#000000" stroke-width="0.6" stroke-linejoin="round" text-anchor="middle"><text x="793.52" y="2042.97" textLength="51.14" lengthAdjust="spacingAndGlyphs">T</text><text x="834.84" y="2042.97" textLength="51.5" lengthAdjust="spacingAndGlyphs">o</text><text x="887.28" y="2042.97" textLength="53.37" lengthAdjust="spacingAndGlyphs">u</text><text x="932.45" y="2042.97" textLength="36.97" lengthAdjust="spacingAndGlyphs">r</text><text x="963.78" y="2042.97" textLength="25.7" lengthAdjust="spacingAndGlyphs">i</text><text x="998.94" y="2042.97" textLength="44.62" lengthAdjust="spacingAndGlyphs">s</text><text x="1060.31" y="2042.97" textLength="78.11" lengthAdjust="spacingAndGlyphs">m</text><text x="1151.04" y="2042.97" textLength="51.14" lengthAdjust="spacingAndGlyphs">T</text><text x="1186.84" y="2042.97" textLength="36.97" lengthAdjust="spacingAndGlyphs">r</text><text x="1230.62" y="2042.97" textLength="50.59" lengthAdjust="spacingAndGlyphs">a</text><text x="1272.22" y="2042.97" textLength="32.61" lengthAdjust="spacingAndGlyphs">f</text><text x="1304.84" y="2042.97" textLength="32.61" lengthAdjust="spacingAndGlyphs">f</text><text x="1333.99" y="2042.97" textLength="25.7" lengthAdjust="spacingAndGlyphs">i</text><text x="1369.06" y="2042.97" textLength="44.44" lengthAdjust="spacingAndGlyphs">c</text><text x="1454.68" y="2042.97" textLength="74.6" lengthAdjust="spacingAndGlyphs">M</text><text x="1518.67" y="2042.97" textLength="53.37" lengthAdjust="spacingAndGlyphs">u</text><text x="1558.2" y="2042.97" textLength="25.7" lengthAdjust="spacingAndGlyphs">l</text><text x="1588.96" y="2042.97" textLength="35.84" lengthAdjust="spacingAndGlyphs">t</text><text x="1619.73" y="2042.97" textLength="25.7" lengthAdjust="spacingAndGlyphs">i</text><text x="1659.41" y="2042.97" textLength="53.66" lengthAdjust="spacingAndGlyphs">p</text><text x="1699.09" y="2042.97" textLength="25.7" lengthAdjust="spacingAndGlyphs">l</text><text x="1724.79" y="2042.97" textLength="25.7" lengthAdjust="spacingAndGlyphs">i</text><text x="1763.06" y="2042.97" textLength="50.84" lengthAdjust="spacingAndGlyphs">e</text><text x="1806.96" y="2042.97" textLength="36.97" lengthAdjust="spacingAndGlyphs">r</text></g>
<path d="M2719.45 2653.26L3376.45 2653.26Q3403.82 2653.26 3403.82 2635.41L3403.82 2327.57Q3403.82 2309.72 3376.45 2309.72L2719.45 2309.72Q2692.07 2309.72 2692.07 2327.57L2692.07 2635.41Q2692.07 2653.26 2719.45 2653.26Z" fill="#34cbcd" fill-opacity="0.12" stroke="#34cbcd" stroke-width="7.5" stroke-opacity="0.12" stroke-linejoin="miter" stroke-linecap="butt"/>
<path d="M3631.95 2653.26L4288.95 2653.26Q4316.32 2653.26 4316.32 2635.41L4316.32 2327.57Q4316.32 2309.72 4288.95 2309.72L3631.95 2309.72Q3604.57 2309.72 3604.57 2327.57L3604.57 2635.41Q3604.57 2653.26 3631.95 2653.26Z" fill="#1a1f3a" fill-opacity="0.12" stroke="#1a1f3a" stroke-width="7.5" stroke-opacity="0.12" stroke-linejoin="miter" stroke-linecap="butt"/>
<path d="M3175.7 3129.18L3832.7 3129.18Q3860.07 3129.18 3860.07 3111.33L3860.07 2803.49Q3860.07 2785.64 3832.7 2785.64L3175.7 2785.64Q3148.32 2785.64 3148.32 2803.49L3148.32 3111.33Q3148.32 3129.18 3175.7 3129.18Z" fill="#6e6e6e" fill-opacity="0.12" stroke="#6e6e6e" stroke-width="7.5" stroke-opacity="0.12" stroke-linejoin="miter" stroke-linecap="butt"/>
<g font-size="74.38" font-weight="bold" fill="#34cbcd" stroke="#34cbcd" stroke-width="0.57" stroke-linejoin="round" text-anchor="middle"><text x="2988.79" y="2428.85" textLength="49.31" lengthAdjust="spacingAndGlyphs">5</text><text x="3038.1" y="2428.85" textLength="49.31" lengthAdjust="spacingAndGlyphs">0</text><text x="3098.26" y="2428.85" textLength="71.01" lengthAdjust="spacingAndGlyphs">%</text></g>
<g font-size="65" fill="#1a1f3a" text-anchor="middle"><text x="2888.69" y="2545.33" textLength="43.6" lengthAdjust="spacingAndGlyphs">C</text><text x="2929.59" y="2545.33" textLength="38.2" lengthAdjust="spacingAndGlyphs">o</text><text x="2979.1" y="2545.33" textLength="60.82" lengthAdjust="spacingAndGlyphs">m</text><text x="3039.93" y="2545.33" textLength="60.82" lengthAdjust="spacingAndGlyphs">m</text><text x="3090.12" y="2545.33" textLength="39.57" lengthAdjust="spacingAndGlyphs">u</text><text x="3122.15" y="2545.33" textLength="24.48" lengthAdjust="spacingAndGlyphs">t</text><text x="3153.6" y="2545.33" textLength="38.42" lengthAdjust="spacingAndGlyphs">e</text><text x="3185.65" y="2545.33" textLength="25.67" lengthAdjust="spacingAndGlyphs">r</text><text x="3214.75" y="2545.33" textLength="32.53" lengthAdjust="spacingAndGlyphs">s</text></g>
<g font-size="74.38" font-weight="bold" fill="#1a1f3a" stroke="#1a1f3a" stroke-width="0.57" stroke-linejoin="round" text-anchor="middle"><text x="3901.34" y="2428.85" textLength="49.27" lengthAdjust="spacingAndGlyphs">3</text><text x="3950.61" y="2428.85" textLength="49.27" lengthAdjust="spacingAndGlyphs">3</text><text x="4010.72" y="2428.85" textLength="70.95" lengthAdjust="spacingAndGlyphs">%</text></g>
<g font-size="65" fill="#1a1f3a" text-anchor="middle"><text x="3803.43" y="2545.33" textLength="46.96" lengthAdjust="spacingAndGlyphs">H</text><text x="3846.01" y="2545.33" textLength="38.21" lengthAdjust="spacingAndGlyphs">o</text><text x="3884.9" y="2545.33" textLength="39.58" lengthAdjust="spacingAndGlyphs">u</text><text x="3920.96" y="2545.33" textLength="32.53" lengthAdjust="spacingAndGlyphs">s</text><text x="3956.43" y="2545.33" textLength="38.42" lengthAdjust="spacingAndGlyphs">e</text><text x="3995.43" y="2545.33" textLength="39.58" lengthAdjust="spacingAndGlyphs">h</text><text x="4034.32" y="2545.33" textLength="38.21" lengthAdjust="spacingAndGlyphs">o</text><text x="4062.1" y="2545.33" textLength="17.35" lengthAdjust="spacingAndGlyphs">l</text><text x="4090.6" y="2545.33" textLength="39.64" lengthAdjust="spacingAndGlyphs">d</text><text x="4126.68" y="2545.33" textLength="32.53" lengthAdjust="spacingAndGlyphs">s</text></g>
<g font-size="74.38" font-weight="bold" fill="#6e6e6e" stroke="#6e6e6e" stroke-width="0.57" stroke-linejoin="round" text-anchor="middle"><text x="3406.87" y="2904.77" textLength="49.34" lengthAdjust="spacingAndGlyphs">1</text><text x="3456.21" y="2904.77" textLength="49.34" lengthAdjust="spacingAndGlyphs">6</text><text x="3494.35" y="2904.77" textLength="26.94" lengthAdjust="spacingAndGlyphs">.</text><text x="3532.48" y="2904.77" textLength="49.34" lengthAdjust="spacingAndGlyphs">5</text><text x="3592.68" y="2904.77" textLength="71.05" lengthAdjust="spacingAndGlyphs">%</text></g>
<g font-size="65" fill="#1a1f3a" text-anchor="middle"><text x="3350.79" y="3021.25" textLength="39.69" lengthAdjust="spacingAndGlyphs">S</text><text x="3379.32" y="3021.25" textLength="17.37" lengthAdjust="spacingAndGlyphs">i</text><text x="3407.82" y="3021.25" textLength="39.62" lengthAdjust="spacingAndGlyphs">n</text><text x="3444.82" y="3021.25" textLength="34.37" lengthAdjust="spacingAndGlyphs">c</text><text x="3481.24" y="3021.25" textLength="38.46" lengthAdjust="spacingAndGlyphs">e</text><text x="3540.23" y="3021.25" textLength="39.78" lengthAdjust="spacingAndGlyphs">2</text><text x="3580.01" y="3021.25" textLength="39.78" lengthAdjust="spacingAndGlyphs">0</text><text x="3619.78" y="3021.25" textLength="39.78" lengthAdjust="spacingAndGlyphs">0</text><text x="3659.56" y="3021.25" textLength="39.78" lengthAdjust="spacingAndGlyphs">0</text></g>
<g font-size="78.75" font-weight="bold" fill="#000000" stroke="#000000" stroke-width="0.6" stroke-linejoin="round" text-anchor="middle"><text x="2836.38" y="2042.97" textLength="62.24" lengthAdjust="spacingAndGlyphs">D</text><text x="2892.8" y="2042.97" textLength="50.6" lengthAdjust="spacingAndGlyphs">a</text><text x="2930.95" y="2042.97" textLength="25.7" lengthAdjust="spacingAndGlyphs">i</text><text x="2956.65" y="2042.97" textLength="25.7" lengthAdjust="spacingAndGlyphs">l</text><text x="2993.93" y="2042.97" textLength="48.87" lengthAdjust="spacingAndGlyphs">y</text><text x="3071.99" y="2042.97" textLength="55.03" lengthAdjust="spacingAndGlyphs">C</text><text x="3125.26" y="2042.97" textLength="51.51" lengthAdjust="spacingAndGlyphs">o</text><text x="3190.08" y="2042.97" textLength="78.13" lengthAdjust="spacingAndGlyphs">m</text><text x="3268.2" y="2042.97" textLength="78.13" lengthAdjust="spacingAndGlyphs">m</text><text x="3333.95" y="2042.97" textLength="53.38" lengthAdjust="spacingAndGlyphs">u</text><text x="3378.56" y="2042.97" textLength="35.84" lengthAdjust="spacingAndGlyphs">t</text><text x="3421.91" y="2042.97" textLength="50.85" lengthAdjust="spacingAndGlyphs">e</text><text x="3465.83" y="2042.97" textLength="36.98" lengthAdjust="spacingAndGlyphs">r</text><text x="3539.43" y="2042.97" textLength="58.03" lengthAdjust="spacingAndGlyphs">A</text><text x="3595.13" y="2042.97" textLength="53.38" lengthAdjust="spacingAndGlyphs">u</text><text x="3648.66" y="2042.97" textLength="53.67" lengthAdjust="spacingAndGlyphs">d</text><text x="3688.34" y="2042.97" textLength="25.7" lengthAdjust="spacingAndGlyphs">i</text><text x="3726.62" y="2042.97" textLength="50.85" lengthAdjust="spacingAndGlyphs">e</text><text x="3778.74" y="2042.97" textLength="53.38" lengthAdjust="spacingAndGlyphs">n</text><text x="3827.65" y="2042.97" textLength="44.45" lengthAdjust="spacingAndGlyphs">c</text><text x="3875.3" y="2042.97" textLength="50.85" lengthAdjust="spacingAndGlyphs">e</text><text x="3954.3" y="2042.97" textLength="54.95" lengthAdjust="spacingAndGlyphs">P</text><text x="4000.27" y="2042.97" textLength="36.98" lengthAdjust="spacingAndGlyphs">r</text><text x="4044.51" y="2042.97" textLength="51.51" lengthAdjust="spacingAndGlyphs">o</text><text x="4086.57" y="2042.97" textLength="32.62" lengthAdjust="spacingAndGlyphs">f</text><text x="4115.73" y="2042.97" textLength="25.7" lengthAdjust="spacingAndGlyphs">i</text><text x="4141.44" y="2042.97" textLength="25.7" lengthAdjust="spacingAndGlyphs">l</text><text x="4179.71" y="2042.97" textLength="50.85" lengthAdjust="spacingAndGlyphs">e</text></g>
<path d="M0 288L4800 288L4800 0L0 0Z" fill="#34cbcd"/>
<path d="M0 288L4800 288L4800 279.5L0 279.5Z" fill="#f25a73"/>
<g font-size="113.75" font-weight="bold" fill="#ffffff" stroke="#ffffff" stroke-width="0.87" stroke-linejoin="round" text-anchor="middle"><text x="483.77" y="174" textLength="74.04" lengthAdjust="spacingAndGlyphs">F</text><text x="553.65" y="174" textLength="74.47" lengthAdjust="spacingAndGlyphs">o</text><text x="617.61" y="174" textLength="53.46" lengthAdjust="spacingAndGlyphs">r</text><text x="670.25" y="174" textLength="51.82" lengthAdjust="spacingAndGlyphs">t</text><text x="779.97" y="174" textLength="92.15" lengthAdjust="spacingAndGlyphs">O</text><text x="864.84" y="174" textLength="77.59" lengthAdjust="spacingAndGlyphs">g</text><text x="922.21" y="174" textLength="37.15" lengthAdjust="spacingAndGlyphs">l</text><text x="977.54" y="174" textLength="73.52" lengthAdjust="spacingAndGlyphs">e</text><text x="1040.21" y="174" textLength="51.82" lengthAdjust="spacingAndGlyphs">t</text><text x="1104.7" y="174" textLength="77.17" lengthAdjust="spacingAndGlyphs">h</text><text x="1180.52" y="174" textLength="74.47" lengthAdjust="spacingAndGlyphs">o</text><text x="1244.48" y="174" textLength="53.46" lengthAdjust="spacingAndGlyphs">r</text><text x="1310" y="174" textLength="77.59" lengthAdjust="spacingAndGlyphs">p</text><text x="1385.56" y="174" textLength="73.52" lengthAdjust="spacingAndGlyphs">e</text><text x="1443.99" y="174" textLength="43.35" lengthAdjust="spacingAndGlyphs">:</text><text x="1523.56" y="174" textLength="40.33" lengthAdjust="spacingAndGlyphs">I</text><text x="1582.31" y="174" textLength="77.17" lengthAdjust="spacingAndGlyphs">n</text><text x="1646.8" y="174" textLength="51.82" lengthAdjust="spacingAndGlyphs">t</text><text x="1709.47" y="174" textLength="73.52" lengthAdjust="spacingAndGlyphs">e</text><text x="1772.95" y="174" textLength="53.46" lengthAdjust="spacingAndGlyphs">r</text><text x="1831.94" y="174" textLength="64.52" lengthAdjust="spacingAndGlyphs">s</text><text x="1890.11" y="174" textLength="51.82" lengthAdjust="spacingAndGlyphs">t</text><text x="1952.59" y="174" textLength="73.14" lengthAdjust="spacingAndGlyphs">a</text><text x="2015.07" y="174" textLength="51.82" lengthAdjust="spacingAndGlyphs">t</text><text x="2077.73" y="174" textLength="73.52" lengthAdjust="spacingAndGlyphs">e</text><text x="2193.54" y="174" textLength="82.62" lengthAdjust="spacingAndGlyphs">B</text><text x="2253.42" y="174" textLength="37.15" lengthAdjust="spacingAndGlyphs">i</text><text x="2290.58" y="174" textLength="37.15" lengthAdjust="spacingAndGlyphs">l</text><text x="2327.73" y="174" textLength="37.15" lengthAdjust="spacingAndGlyphs">l</text><text x="2385.1" y="174" textLength="77.59" lengthAdjust="spacingAndGlyphs">b</text><text x="2461.13" y="174" textLength="74.47" lengthAdjust="spacingAndGlyphs">o</text><text x="2534.94" y="174" textLength="73.14" lengthAdjust="spacingAndGlyphs">a</text><text x="2598.24" y="174" textLength="53.46" lengthAdjust="spacingAndGlyphs">r</text><text x="2663.76" y="174" textLength="77.59" lengthAdjust="spacingAndGlyphs">d</text><text x="2784.78" y="174" textLength="88.97" lengthAdjust="spacingAndGlyphs">G</text><text x="2865.84" y="174" textLength="73.14" lengthAdjust="spacingAndGlyphs">a</text><text x="2928.32" y="174" textLength="51.82" lengthAdjust="spacingAndGlyphs">t</text><text x="2990.98" y="174" textLength="73.52" lengthAdjust="spacingAndGlyphs">e</text><text x="3077.81" y="174" textLength="100.14" lengthAdjust="spacingAndGlyphs">w</text><text x="3164.45" y="174" textLength="73.14" lengthAdjust="spacingAndGlyphs">a</text><text x="3232.98" y="174" textLength="70.66" lengthAdjust="spacingAndGlyphs">y</text><text x="3328.54" y="174" textLength="44.99" lengthAdjust="spacingAndGlyphs">-</text><text x="3426.48" y="174" textLength="75.42" lengthAdjust="spacingAndGlyphs">2</text><text x="3501.9" y="174" textLength="75.42" lengthAdjust="spacingAndGlyphs">7</text><text x="3577.32" y="174" textLength="75.42" lengthAdjust="spacingAndGlyphs">0</text><text x="3657.02" y="174" textLength="83.99" lengthAdjust="spacingAndGlyphs">K</text><text x="3781.75" y="174" textLength="89.98" lengthAdjust="spacingAndGlyphs">D</text><text x="3863.31" y="174" textLength="73.14" lengthAdjust="spacingAndGlyphs">a</text><text x="3918.46" y="174" textLength="37.15" lengthAdjust="spacingAndGlyphs">i</text><text x="3955.61" y="174" textLength="37.15" lengthAdjust="spacingAndGlyphs">l</text><text x="4009.52" y="174" textLength="70.66" lengthAdjust="spacingAndGlyphs">y</text><text x="4122.36" y="174" textLength="79.55" lengthAdjust="spacingAndGlyphs">C</text><text x="4198.7" y="174" textLength="73.14" lengthAdjust="spacingAndGlyphs">a</text><text x="4262" y="174" textLength="53.46" lengthAdjust="spacingAndGlyphs">r</text><text x="4320.99" y="174" textLength="64.52" lengthAdjust="spacingAndGlyphs">s</text></g>
</svg>
</body></html>
